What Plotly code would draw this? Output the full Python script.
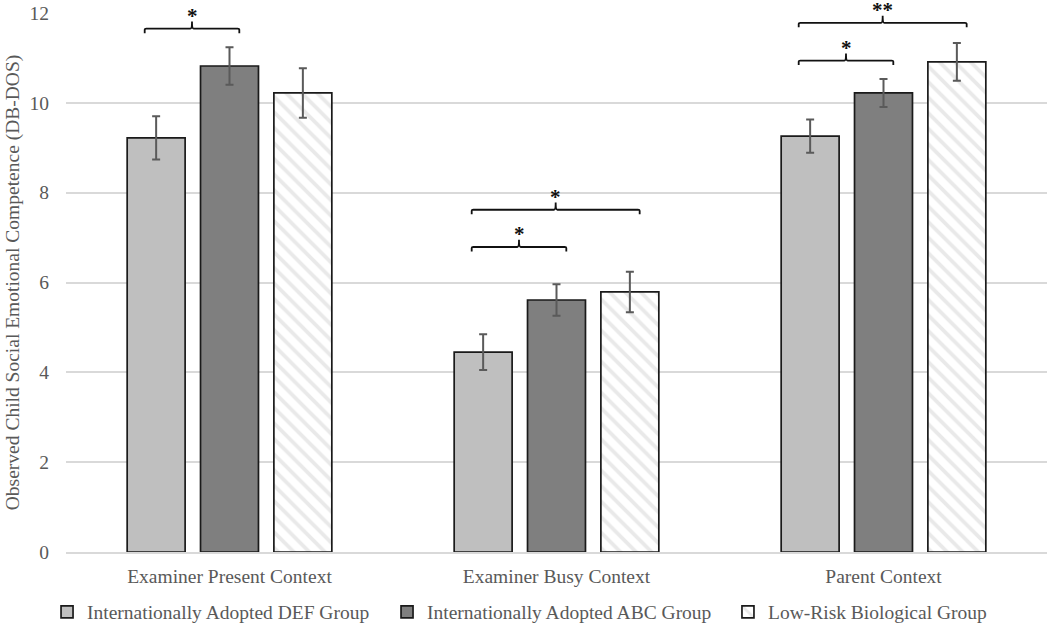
import plotly.graph_objects as go

categories = ["Examiner Present Context", "Examiner Busy Context", "Parent Context"]
series_names = ["Internationally Adopted DEF Group", "Internationally Adopted ABC Group", "Low-Risk Biological Group"]
def_values = [9.22, 4.45, 9.26]
def_errors = [0.48, 0.40, 0.37]
abc_values = [10.82, 5.61, 10.22]
abc_errors = [0.42, 0.35, 0.31]
bio_values = [10.22, 5.79, 10.91]
bio_errors = [0.55, 0.45, 0.42]
y_ticks = [0, 2, 4, 6, 8, 10, 12]

# significance brackets: (category index, from bar, to bar, bracket height, label)
brackets = [
    (0, 0, 1, 11.65, "*"),
    (1, 0, 1, 6.79, "*"),
    (1, 0, 2, 7.62, "*"),
    (2, 0, 1, 10.94, "*"),
    (2, 0, 2, 11.78, "**"),
]

FONT = "Liberation Serif, Times New Roman, serif"
TXT = "#595959"
FS = 19.5
BARGAP = 0.327
GROUPGAP = 0.21

fig = go.Figure()
err_style = dict(type="data", visible=True, color="#5a5a5a", thickness=2, width=4)
fig.add_trace(go.Bar(
    name=series_names[0], x=categories, y=def_values, legend="legend", showlegend=True,
    error_y=dict(array=def_errors, **err_style),
    marker=dict(color="#bfbfbf", line=dict(color="#1a1a1a", width=1.7)),
))
fig.add_trace(go.Bar(
    name=series_names[1], x=categories, y=abc_values, legend="legend2", showlegend=True,
    error_y=dict(array=abc_errors, **err_style),
    marker=dict(color="#7f7f7f", line=dict(color="#1a1a1a", width=1.7)),
))
fig.add_trace(go.Bar(
    name=series_names[2], x=categories, y=bio_values, legend="legend3", showlegend=True,
    error_y=dict(array=bio_errors, **err_style),
    marker=dict(color="white", line=dict(color="#1a1a1a", width=1.7),
                pattern=dict(shape="\\", fgcolor="#d4d4d4", bgcolor="white",
                             size=11, solidity=0.35)),
))

slot = (1 - BARGAP) / 3
shapes = []
annotations = []
for cat, b0, b1, yb, label in brackets:
    x0 = cat + (b0 - 1) * slot - 0.035
    x1 = cat + (b1 - 1) * slot + 0.03
    xm = (x0 + x1) / 2
    drop = 0.1
    rise = 0.16
    path = (f"M {x0},{yb - drop} L {x0},{yb - 0.02} Q {x0},{yb} {x0 + 0.005},{yb} "
            f"L {xm - 0.005},{yb} Q {xm},{yb} {xm},{yb + rise} "
            f"Q {xm},{yb} {xm + 0.005},{yb} L {x1 - 0.005},{yb} Q {x1},{yb} {x1},{yb - 0.02} "
            f"L {x1},{yb - drop}")
    shapes.append(dict(type="path", xref="x", yref="y", path=path,
                       line=dict(color="#111111", width=1.8)))
    annotations.append(dict(x=xm, y=yb - 0.02, xref="x", yref="y", text=f"<b>{label}</b>",
                            showarrow=False, yanchor="bottom",
                            font=dict(family=FONT, size=21, color="#111111")))

legend_style = dict(orientation="h", xref="container", yref="container",
                    xanchor="left", y=0.033, yanchor="middle",
                    font=dict(family=FONT, size=FS, color=TXT),
                    itemwidth=30, tracegroupgap=0, bgcolor="rgba(0,0,0,0)")

fig.update_layout(
    width=1050, height=633,
    showlegend=True,
    margin=dict(l=66, r=3, t=13, b=81, autoexpand=False),
    paper_bgcolor="white", plot_bgcolor="white",
    barmode="group", bargap=BARGAP, bargroupgap=GROUPGAP,
    font=dict(family=FONT, size=FS, color=TXT),
    shapes=shapes, annotations=annotations,
    legend=dict(x=0.0448, **legend_style),
    legend2=dict(x=0.3686, **legend_style),
    legend3=dict(x=0.6933, **legend_style),
    xaxis=dict(showline=True, linecolor="#d9d9d9", linewidth=1.5,
               ticks="", ticklabelstandoff=6, automargin=False,
               tickfont=dict(family=FONT, size=FS, color=TXT)),
    yaxis=dict(range=[0, 12], tickvals=y_ticks, showgrid=True,
               gridcolor="#d9d9d9", gridwidth=1.5, zeroline=False,
               showline=False, ticks="", ticklabelstandoff=16,
               ticklabeloverflow="allow", automargin=False,
               tickfont=dict(family=FONT, size=FS, color=TXT),
               title=dict(text="Observed Child Social Emotional Competence (DB-DOS)",
                          font=dict(family=FONT, size=FS, color=TXT), standoff=4)),
)

fig.write_html("out.html", config={"displayModeBar": False},
               post_script="document.body.style.margin='0';")
